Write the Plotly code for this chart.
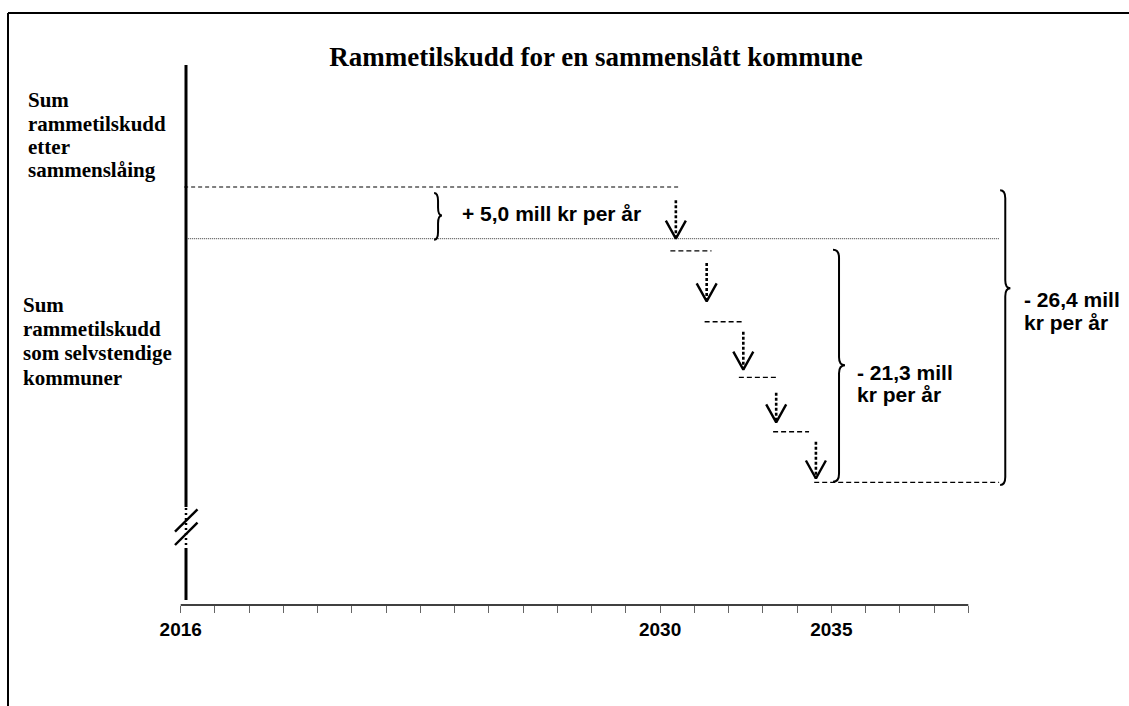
import plotly.graph_objects as go

# ---------------- data (schematic levels) ----------------
tick_years = list(range(2016, 2040))
tick_text = ["2016", "", "", "", "", "", "", "", "", "", "", "", "", "",
             "2030", "", "", "", "", "2035", "", "", "", ""]

merged_x = [2016.1, 2030.6]          # sum after merger (dashed)
merged_level = 38.0
standalone_x = [2016.15, 2039.9]     # sum as independent municipalities (dotted)
standalone_level = 33.3

step_start = [2030.3, 2031.3, 2032.3, 2033.3, 2034.5]
step_end = [2031.5, 2032.4, 2033.4, 2034.35, 2039.9]
step_level = [32.2, 25.75, 20.7, 15.75, 11.15]

arrow_x = [2030.46, 2031.36, 2032.43, 2033.39, 2034.55]
arrow_top = [36.8, 31.1, 24.85, 19.3, 14.85]
arrow_tip = [33.3, 27.6, 21.4, 16.6, 11.5]

brace_x = [2023.4, 2035.05, 2039.93]
brace_top = [37.45, 32.3, 37.7]
brace_bottom = [33.2, 11.2, 10.9]
brace_tip = [35.4, 21.8, 28.8]
brace_width = [0.23, 0.35, 0.3]

brace_text = [["+ 5,0 mill kr per år"], ["- 21,3 mill", "kr per år"], ["- 26,4 mill", "kr per år"]]
brace_text_x = [2024.15, 2035.69, 2040.58]
brace_text_y = [[35.6], [21.1, 19.1], [27.75, 25.7]]

left_label_1 = ["Sum", "rammetilskudd", "etter", "sammenslåing"]
left_label_2 = ["Sum", "rammetilskudd", "som selvstendige", "kommuner"]

title = "Rammetilskudd for en sammenslått kommune"

# ---------------- layout geometry ----------------
W, H = 1129, 706
X0_PX, PX_PER_YEAR = 180.7, 34.243
PLOT_BOTTOM = 605
PX_PER_UNIT = 11.0
x_range = [2016 - X0_PX / PX_PER_YEAR, 2016 + (W - X0_PX) / PX_PER_YEAR]
y_range = [0, PLOT_BOTTOM / PX_PER_UNIT]


def py(px):  # paper y for a pixel row
    return (PLOT_BOTTOM - px) / PLOT_BOTTOM


def pxx(px):  # paper x for a pixel column
    return px / W


def yv(px):  # y value for a pixel row
    return (PLOT_BOTTOM - px) / PX_PER_UNIT


def xv(px):
    return 2016 + (px - X0_PX) / PX_PER_YEAR


fig = go.Figure()


def line(xs, ys, width=1.2, dash="solid", color="black"):
    fig.add_trace(go.Scatter(x=xs, y=ys, mode="lines", hoverinfo="skip",
                             line=dict(color=color, width=width, dash=dash),
                             showlegend=False))


# merged level (dashed) and standalone level (dotted)
line(merged_x, [merged_level] * 2, width=1.2, dash="4px,3px")
line(standalone_x, [standalone_level] * 2, width=1, dash="1px,1px", color="#333")

# yearly reduction steps
for x0, x1, lv in zip(step_start, step_end, step_level):
    line([x0, x1], [lv, lv], width=1.3, dash="5px,3px")

# arrows
dx = 10 / PX_PER_YEAR
dy = 18 / PX_PER_UNIT
for ax, at, tip in zip(arrow_x, arrow_top, arrow_tip):
    line([ax, ax], [at, tip], width=2.6, dash="3px,2px")
    line([ax - dx, ax, ax + dx], [tip + dy, tip, tip + dy], width=2.4)

# vertical axis with break
axis_x = xv(186)
line([axis_x, axis_x], [yv(65), yv(507)], width=3)
line([axis_x, axis_x], [yv(508), yv(547)], width=2.5, dash="2px,3px")
line([axis_x, axis_x], [yv(548), yv(600)], width=3)
line([xv(175), xv(197.5)], [yv(531.7), yv(509.3)], width=2.4)
line([xv(175), xv(197.5)], [yv(545), yv(522.7)], width=2.4)

shapes = []
# braces
r = 8 / PX_PER_UNIT
for bx, bt, bb, btip, bw in zip(brace_x, brace_top, brace_bottom, brace_tip, brace_width):
    xm = bx + bw / 2
    xe = bx + bw
    path = (f"M {bx},{bt} Q {xm},{bt} {xm},{bt - r} L {xm},{btip + r} "
            f"Q {xm},{btip} {xe},{btip} Q {xm},{btip} {xm},{btip - r} "
            f"L {xm},{bb + r} Q {xm},{bb} {bx},{bb}")
    shapes.append(dict(type="path", path=path, xref="x", yref="y",
                       line=dict(color="black", width=2)))

# x axis line
shapes.append(dict(type="line", xref="x", yref="paper", x0=2016, x1=2039, y0=0, y1=0,
                   line=dict(color="black", width=1.5)))
# outer frame
shapes.append(dict(type="line", xref="paper", yref="paper", x0=pxx(8), x1=1.05,
                   y0=py(13), y1=py(13), line=dict(color="black", width=2)))
shapes.append(dict(type="line", xref="paper", yref="paper", x0=pxx(8), x1=pxx(8),
                   y0=py(13), y1=-0.3, line=dict(color="black", width=2)))

annotations = []
arial_b = dict(family="Liberation Sans, Arial", size=21, color="black", weight="bold")
serif_b = dict(family="Liberation Serif, Times New Roman", size=21, color="black", weight="bold")
for texts, tx, tys in zip(brace_text, brace_text_x, brace_text_y):
    for t, ty in zip(texts, tys):
        annotations.append(dict(text=t, x=tx, y=ty, xref="x", yref="y", xanchor="left",
                                yanchor="middle", showarrow=False, font=arial_b))

for t, c in zip(left_label_1, [100.5, 123.6, 146.7, 169.8]):
    annotations.append(dict(text=t, x=pxx(26), y=py(c), xref="paper", yref="paper",
                            xanchor="left", yanchor="middle", showarrow=False, font=serif_b))
for t, c in zip(left_label_2, [304.7, 329.2, 353.2, 377.5]):
    annotations.append(dict(text=t, x=pxx(21), y=py(c), xref="paper", yref="paper",
                            xanchor="left", yanchor="middle", showarrow=False, font=serif_b))

fig.update_layout(
    width=W, height=H,
    margin=dict(l=0, r=0, t=0, b=H - PLOT_BOTTOM, pad=0),
    paper_bgcolor="white", plot_bgcolor="white",
    showlegend=False,
    title=dict(text=title, x=596 / W, xref="container", xanchor="center",
               y=1 - 57 / H, yref="container", yanchor="middle",
               font=dict(family="Liberation Serif, Times New Roman", size=27,
                         color="black", weight="bold")),
    xaxis=dict(range=x_range, tickmode="array", tickvals=tick_years, ticktext=tick_text,
               ticks="outside", ticklen=7, tickwidth=1, tickcolor="#666",
               showgrid=False, zeroline=False, showline=False,
               tickfont=dict(family="Liberation Sans, Arial", size=19, color="black", weight="bold")),
    yaxis=dict(range=y_range, showticklabels=False, ticks="", showgrid=False,
               zeroline=False, showline=False),
    shapes=shapes, annotations=annotations,
)

fig.write_html("out.html", config={"displayModeBar": False},
               post_script="document.body.style.margin='0';")
